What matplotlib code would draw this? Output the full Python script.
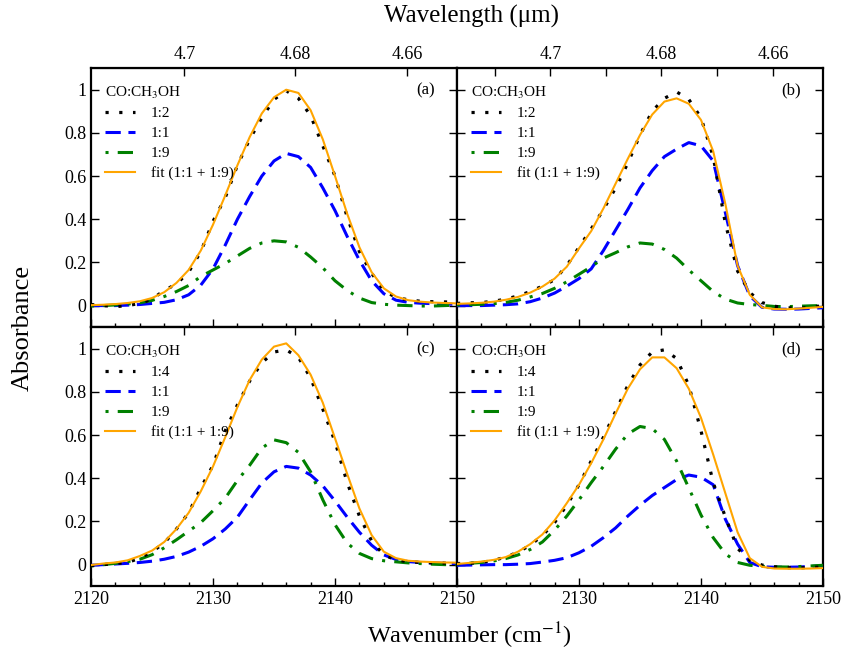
import numpy as np
import matplotlib
matplotlib.use("Agg")
import matplotlib.pyplot as plt
from matplotlib.ticker import MultipleLocator, FixedLocator, FormatStrFormatter, FuncFormatter

plt.rcParams['font.family'] = ['Liberation Serif', 'DejaVu Serif']
plt.rcParams['mathtext.fontset'] = 'stix'

# Wavenumber grid (cm-1)
wn = np.arange(2120, 2151, 1)

# Panel (a)
a_12 = [0.005, 0.0, -0.005, 0.0, 0.01, 0.03, 0.07, 0.10, 0.155, 0.25, 0.39, 0.50, 0.65, 0.77, 0.87, 0.955,
        0.995, 0.96, 0.88, 0.74, 0.60, 0.41, 0.25, 0.15, 0.07, 0.037, 0.027, 0.02, 0.018, 0.017, 0.016]
a_11 = [0.0, 0.0, 0.0, 0.002, 0.005, 0.01, 0.015, 0.027, 0.05, 0.095, 0.17, 0.28, 0.40, 0.505, 0.60, 0.67,
        0.705, 0.69, 0.64, 0.545, 0.44, 0.32, 0.21, 0.115, 0.055, 0.025, 0.015, 0.011, 0.009, 0.007, 0.006]
a_19 = [-0.002, 0.0, 0.003, 0.007, 0.013, 0.024, 0.042, 0.065, 0.093, 0.135, 0.165, 0.195, 0.23, 0.265, 0.29, 0.30,
        0.295, 0.27, 0.225, 0.175, 0.115, 0.07, 0.035, 0.014, 0.006, 0.002, 0.0, -0.002, -0.002, 0.0, 0.002]
a_fit = [0.002, 0.004, 0.007, 0.012, 0.02, 0.035, 0.062, 0.105, 0.165, 0.255, 0.375, 0.51, 0.65, 0.78, 0.89, 0.965,
         1.0, 0.985, 0.905, 0.77, 0.60, 0.425, 0.27, 0.155, 0.08, 0.042, 0.025, 0.018, 0.014, 0.012, 0.01]

# Panel (b)
b_12 = [0.01, 0.013, 0.014, 0.02, 0.03, 0.045, 0.065, 0.09, 0.12, 0.185, 0.27, 0.355, 0.445, 0.545, 0.66, 0.79,
        0.90, 0.96, 0.99, 0.955, 0.87, 0.69, 0.38, 0.16, 0.06, 0.014, -0.003, -0.01, -0.012, -0.008, 0.0]
b_11 = [0.0, 0.0, 0.0, 0.002, 0.004, 0.008, 0.018, 0.035, 0.058, 0.09, 0.125, 0.17, 0.255, 0.35, 0.445, 0.545,
        0.625, 0.69, 0.725, 0.755, 0.74, 0.67, 0.43, 0.185, 0.045, -0.008, -0.016, -0.017, -0.016, -0.013, -0.01]
b_19 = [0.003, 0.004, 0.006, 0.009, 0.015, 0.025, 0.04, 0.056, 0.08, 0.11, 0.145, 0.18, 0.22, 0.245, 0.272, 0.29,
        0.285, 0.26, 0.22, 0.165, 0.115, 0.065, 0.03, 0.012, 0.005, 0.001, -0.004, -0.005, -0.003, -0.001, 0.0]
b_fit = [0.008, 0.01, 0.013, 0.018, 0.027, 0.04, 0.06, 0.088, 0.125, 0.18, 0.265, 0.345, 0.45, 0.565, 0.68, 0.79,
         0.885, 0.945, 0.96, 0.935, 0.86, 0.715, 0.47, 0.185, 0.05, -0.008, -0.016, -0.017, -0.014, -0.01, -0.006]

# Panel (c)
c_14 = [-0.005, 0.0, 0.005, 0.01, 0.03, 0.06, 0.10, 0.165, 0.24, 0.355, 0.46, 0.62, 0.74, 0.85, 0.935, 0.985,
        0.995, 0.96, 0.865, 0.72, 0.57, 0.38, 0.225, 0.11, 0.045, 0.022, 0.013, 0.01, 0.008, 0.007, 0.006]
c_11 = [-0.003, 0.0, 0.003, 0.006, 0.01, 0.016, 0.025, 0.038, 0.058, 0.085, 0.12, 0.165, 0.22, 0.30, 0.378, 0.43,
        0.455, 0.447, 0.415, 0.365, 0.295, 0.22, 0.15, 0.09, 0.045, 0.024, 0.014, 0.01, 0.008, 0.006, 0.005]
c_19 = [-0.006, 0.0, 0.006, 0.014, 0.025, 0.046, 0.078, 0.115, 0.155, 0.195, 0.25, 0.308, 0.39, 0.46, 0.54, 0.578,
        0.565, 0.52, 0.43, 0.30, 0.185, 0.10, 0.052, 0.028, 0.018, 0.013, 0.008, 0.005, 0.002, 0.0, 0.0]
c_fit = [-0.002, 0.005, 0.01, 0.02, 0.04, 0.065, 0.105, 0.165, 0.24, 0.34, 0.455, 0.59, 0.73, 0.855, 0.95, 1.01,
         1.025, 0.97, 0.88, 0.75, 0.585, 0.42, 0.26, 0.137, 0.06, 0.03, 0.018, 0.014, 0.012, 0.01, 0.009]

# Panel (d)
d_14 = [0.005, 0.006, 0.01, 0.02, 0.035, 0.058, 0.09, 0.135, 0.195, 0.275, 0.37, 0.48, 0.59, 0.71, 0.83, 0.925,
        0.985, 0.995, 0.955, 0.83, 0.62, 0.38, 0.22, 0.075, 0.02, -0.002, -0.01, -0.014, -0.015, -0.013, -0.011]
d_11 = [-0.003, -0.002, -0.001, 0.0, 0.0, 0.002, 0.005, 0.012, 0.02, 0.032, 0.055, 0.085, 0.125, 0.17, 0.225, 0.275,
        0.32, 0.357, 0.394, 0.415, 0.405, 0.37, 0.21, 0.095, 0.01, -0.01, -0.012, -0.012, -0.011, -0.008, -0.006]
d_19 = [0.003, 0.006, 0.01, 0.017, 0.028, 0.045, 0.07, 0.105, 0.16, 0.225, 0.30, 0.38, 0.455, 0.535, 0.605, 0.64,
        0.63, 0.58, 0.48, 0.355, 0.23, 0.125, 0.05, 0.01, -0.003, -0.008, -0.01, -0.011, -0.009, -0.006, -0.003]
d_fit = [0.003, 0.008, 0.014, 0.022, 0.035, 0.06, 0.095, 0.14, 0.205, 0.285, 0.37, 0.47, 0.58, 0.70, 0.815, 0.905,
         0.96, 0.96, 0.91, 0.815, 0.68, 0.51, 0.33, 0.15, 0.03, -0.01, -0.018, -0.019, -0.019, -0.018, -0.016]

panels = [
    ('(a)', '1:2', a_12, a_11, a_19, a_fit),
    ('(b)', '1:2', b_12, b_11, b_19, b_fit),
    ('(c)', '1:4', c_14, c_11, c_19, c_fit),
    ('(d)', '1:4', d_14, d_11, d_19, d_fit),
]

wl_major = [4.7, 4.68, 4.66]
wl_minor = [4.71, 4.69, 4.67, 4.65]


def wn2wl(x):
    x = np.asarray(x, dtype=float)
    with np.errstate(divide='ignore'):
        return 1e4 / x


fig, axes = plt.subplots(2, 2, figsize=(8.46, 6.55), dpi=100)
fig.subplots_adjust(left=0.1076, right=0.9728, top=0.896, bottom=0.105, hspace=0, wspace=0)

for i, ax in enumerate(axes.flat):
    lab, ratio, y_hi, y_11, y_19, y_fit = panels[i]
    ax.plot(wn, y_hi, color='black', lw=2.3, linestyle=(0, (1, 3.3)), label=ratio, zorder=4)
    ax.plot(wn, y_11, color='#0000ff', lw=2.2, linestyle=(0, (5, 2.5)), label='1:1', zorder=3)
    ax.plot(wn, y_19, color='#008000', lw=2.2, linestyle=(0, (1, 3, 5, 3)), label='1:9', zorder=3)
    ax.plot(wn, y_fit, color='#ffa500', lw=1.5, label='fit (1:1 + 1:9)', zorder=5)

    ax.set_xlim(2120, 2150)
    ax.set_ylim(-0.1, 1.1)
    ax.xaxis.set_major_locator(MultipleLocator(10))
    ax.xaxis.set_minor_locator(MultipleLocator(2))
    ax.yaxis.set_major_locator(MultipleLocator(0.2))
    ax.yaxis.set_major_formatter(FormatStrFormatter('%g'))
    ax.tick_params(which='both', direction='in', top=False, right=True, labelsize=13)
    ax.tick_params(which='major', length=6, width=1)
    ax.tick_params(which='minor', length=3, width=1)
    for sp in ax.spines.values():
        sp.set_linewidth(1.6)

    # top axis in wavelength
    sec = ax.secondary_xaxis('top', functions=(wn2wl, wn2wl))
    sec.xaxis.set_major_locator(FixedLocator(wl_major))
    sec.xaxis.set_major_formatter(FormatStrFormatter('%g'))
    if i == 1:
        sec.xaxis.set_minor_locator(FixedLocator(wl_minor))
    else:
        sec.xaxis.set_minor_locator(FixedLocator([]))
    sec.tick_params(which='both', direction='in', labelsize=13)
    sec.tick_params(which='major', length=6, width=1)
    sec.tick_params(which='minor', length=6, width=1)
    if i >= 2:
        sec.tick_params(labeltop=False)

    ax.text(0.94, 0.915, lab, transform=ax.transAxes, ha='right', va='center', fontsize=12)

    leg = ax.legend(loc='upper left', bbox_to_anchor=(0.0, 0.99), frameon=False, fontsize=11,
                    title='CO:CH$_3$OH', title_fontsize=11, handlelength=2.0, handletextpad=1.0,
                    labelspacing=0.4, borderpad=0.4)
    leg._legend_box.align = 'left'

for ax in axes[0, :]:
    ax.tick_params(labelbottom=False)
for ax in axes[:, 1]:
    ax.tick_params(labelleft=False)
axes[1, 1].xaxis.set_major_formatter(FuncFormatter(lambda v, p: '' if v < 2121 else '%g' % v))

fig.text(0.557, 0.975, 'Wavelength (μm)', ha='center', va='center', fontsize=18)
fig.text(0.027, 0.5, 'Absorbance', ha='center', va='center', rotation=90, fontsize=19)
fig.text(0.555, 0.03, 'Wavenumber (cm$^{-1}$)', ha='center', va='center', fontsize=17.5)

fig.savefig('out.png', dpi=100)
